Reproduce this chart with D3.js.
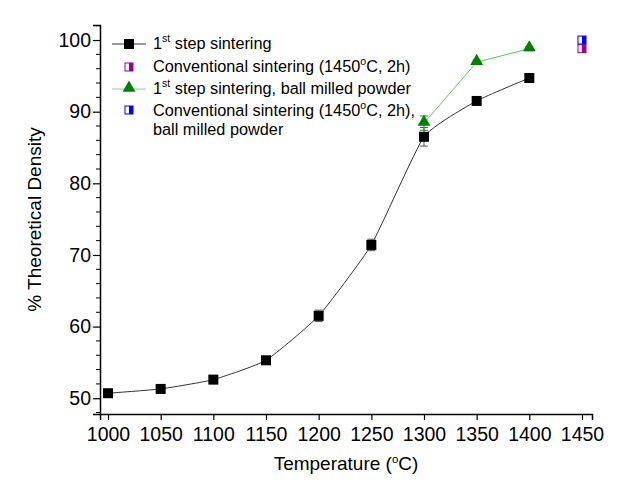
<!DOCTYPE html>
<html>
<head>
<meta charset="utf-8">
<script src="https://cdn.jsdelivr.net/npm/d3@7"></script>
<style>
  body { margin: 0; background: #fff; }
  svg text { font-family: "Liberation Sans", Arial, sans-serif; }
</style>
</head>
<body>
<svg id="chart" width="630" height="483"></svg>
<script>
// ---- Data ----------------------------------------------------------------
var temps = [1000, 1050, 1100, 1150, 1200, 1250, 1300, 1350, 1400];
var stepDensity = [50.7, 51.3, 52.6, 55.3, 61.5, 71.4, 86.5, 91.5, 94.7];
var stepErr = [0.2, 0.2, 0.2, 0.2, 0.8, 0.8, 1.3, 0.3, 0.3];

var millTemps = [1300, 1350, 1400];
var millDensity = [88.4, 96.9, 98.8];
var millErr = [1.0, 0.3, 0.3];

var convTemp = 1450;
var convDensity = 98.8;
var convMillDensity = 100.0;

var xTicks = [1000, 1050, 1100, 1150, 1200, 1250, 1300, 1350, 1400, 1450];
var yTicks = [50, 60, 70, 80, 90, 100];

// ---- Layout --------------------------------------------------------------
var svg = d3.select('#chart');
var plotL = 100, plotR = 592, plotT = 25, plotB = 414;

var x = d3.scaleLinear().domain([992.4, 1459.5]).range([plotL, plotR]);
var y = d3.scaleLinear().domain([47.8, 102.1]).range([plotB, plotT]);

// axes
var xAxis = svg.append('g').attr('transform', 'translate(0,' + plotB + ')')
  .call(d3.axisBottom(x).tickValues(xTicks).tickFormat(d3.format('d')).tickSizeOuter(0).tickSize(6).tickPadding(7));
var yAxis = svg.append('g').attr('transform', 'translate(' + plotL + ',0)')
  .call(d3.axisLeft(y).tickValues(yTicks).tickSizeOuter(0).tickSize(7).tickPadding(2));
// minor y ticks
yAxis.selectAll('.minor').data(d3.range(48, 102.1, 2).filter(function(v) { return v % 10 !== 0; }))
  .enter().append('line').attr('class', 'minor')
  .attr('x1', 0).attr('x2', -4)
  .attr('y1', function(d) { return y(d); }).attr('y2', function(d) { return y(d); })
  .attr('stroke', '#000');

[xAxis, yAxis].forEach(function(a) {
  a.select('.domain').attr('stroke', '#000').attr('stroke-width', 1.5);
  a.selectAll('.tick line').attr('stroke', '#000').attr('stroke-width', 1.2);
  a.selectAll('.tick text').attr('font-size', 19.5).attr('fill', '#000')
    .style('font-family', '"Liberation Sans", Arial, sans-serif');
});

// axis titles
var xt = svg.append('text').attr('x', (plotL + plotR) / 2).attr('y', 470)
  .attr('text-anchor', 'middle').attr('font-size', 19);
xt.append('tspan').text('Temperature (');
xt.append('tspan').attr('font-size', 11.5).attr('dy', -7).text('o');
xt.append('tspan').attr('dy', 7).text('C)');

svg.append('text').attr('transform', 'translate(41,' + ((plotT + plotB) / 2) + ') rotate(-90)')
  .attr('text-anchor', 'middle').attr('font-size', 19).text('% Theoretical Density');

// ---- Series --------------------------------------------------------------
var stepPts = temps.map(function(t, i) { return { t: t, v: stepDensity[i], e: stepErr[i] }; });
var millPts = millTemps.map(function(t, i) { return { t: t, v: millDensity[i], e: millErr[i] }; });

svg.append('path').datum(stepPts)
  .attr('fill', 'none').attr('stroke', '#333').attr('stroke-width', 1)
  .attr('d', d3.line().curve(d3.curveCardinal.tension(0.55))
    .x(function(d) { return x(d.t); }).y(function(d) { return y(d.v); }));

svg.append('path').datum(millPts)
  .attr('fill', 'none').attr('stroke', '#5cc85c').attr('stroke-width', 1)
  .attr('d', d3.line().x(function(d) { return x(d.t); }).y(function(d) { return y(d.v); }));

function errBars(pts, color) {
  var g = svg.append('g').attr('stroke', color).attr('stroke-width', 1);
  pts.forEach(function(d) {
    var cx = x(d.t);
    g.append('line').attr('x1', cx).attr('x2', cx).attr('y1', y(d.v - d.e)).attr('y2', y(d.v + d.e));
    [d.v - d.e, d.v + d.e].forEach(function(v) {
      g.append('line').attr('x1', cx - 4).attr('x2', cx + 4).attr('y1', y(v)).attr('y2', y(v));
    });
  });
}
errBars(stepPts, '#555');
errBars(millPts, '#2a8a2a');

svg.append('g').selectAll('rect').data(stepPts).enter().append('rect')
  .attr('x', function(d) { return x(d.t) - 5; }).attr('y', function(d) { return y(d.v) - 5; })
  .attr('width', 10).attr('height', 10).attr('fill', '#000');

var tri = d3.symbol().type(d3.symbolTriangle).size(72);
svg.append('g').selectAll('path').data(millPts).enter().append('path')
  .attr('d', tri)
  .attr('transform', function(d) { return 'translate(' + x(d.t) + ',' + (y(d.v) - 1) + ')'; })
  .attr('fill', '#008000');

function halfSquare(cx, cy, color, s) {
  var g = svg.append('g');
  g.append('rect').attr('x', cx - s / 2).attr('y', cy - s / 2).attr('width', s).attr('height', s)
    .attr('fill', '#fff').attr('stroke', color).attr('stroke-width', 1);
  g.append('rect').attr('x', cx).attr('y', cy - s / 2).attr('width', s / 2).attr('height', s)
    .attr('fill', color);
}
halfSquare(x(convTemp), y(convDensity), '#990099', 8);
halfSquare(x(convTemp), y(convMillDensity), '#0000ff', 8);

// ---- Legend --------------------------------------------------------------
var lx = 153;
function legendText(yy, parts) {
  var t = svg.append('text').attr('x', lx).attr('y', yy).attr('font-size', 16.3);
  parts.forEach(function(p) {
    if (p.sup) t.append('tspan').attr('font-size', 10.5).attr('dy', -7).text(p.s);
    else t.append('tspan').attr('dy', p.after ? 7 : 0).text(p.s);
  });
}
svg.append('line').attr('x1', 112).attr('x2', 146).attr('y1', 44).attr('y2', 44).attr('stroke', '#333');
svg.append('rect').attr('x', 124).attr('y', 39).attr('width', 10).attr('height', 10).attr('fill', '#000');
legendText(49, [{ s: '1' }, { s: 'st', sup: true }, { s: ' step sintering', after: true }]);

halfSquare(129, 67, '#990099', 8);
legendText(72, [{ s: 'Conventional sintering (1450' }, { s: 'o', sup: true }, { s: 'C, 2h)', after: true }]);

svg.append('line').attr('x1', 112).attr('x2', 146).attr('y1', 89).attr('y2', 89).attr('stroke', '#8fd08f');
svg.append('path').attr('d', tri).attr('transform', 'translate(129,88)').attr('fill', '#008000');
legendText(94, [{ s: '1' }, { s: 'st', sup: true }, { s: ' step sintering, ball milled powder', after: true }]);

halfSquare(129, 110, '#0000ff', 8);
legendText(116, [{ s: 'Conventional sintering (1450' }, { s: 'o', sup: true }, { s: 'C, 2h),', after: true }]);
legendText(135, [{ s: 'ball milled powder' }]);
</script>
</body>
</html>
